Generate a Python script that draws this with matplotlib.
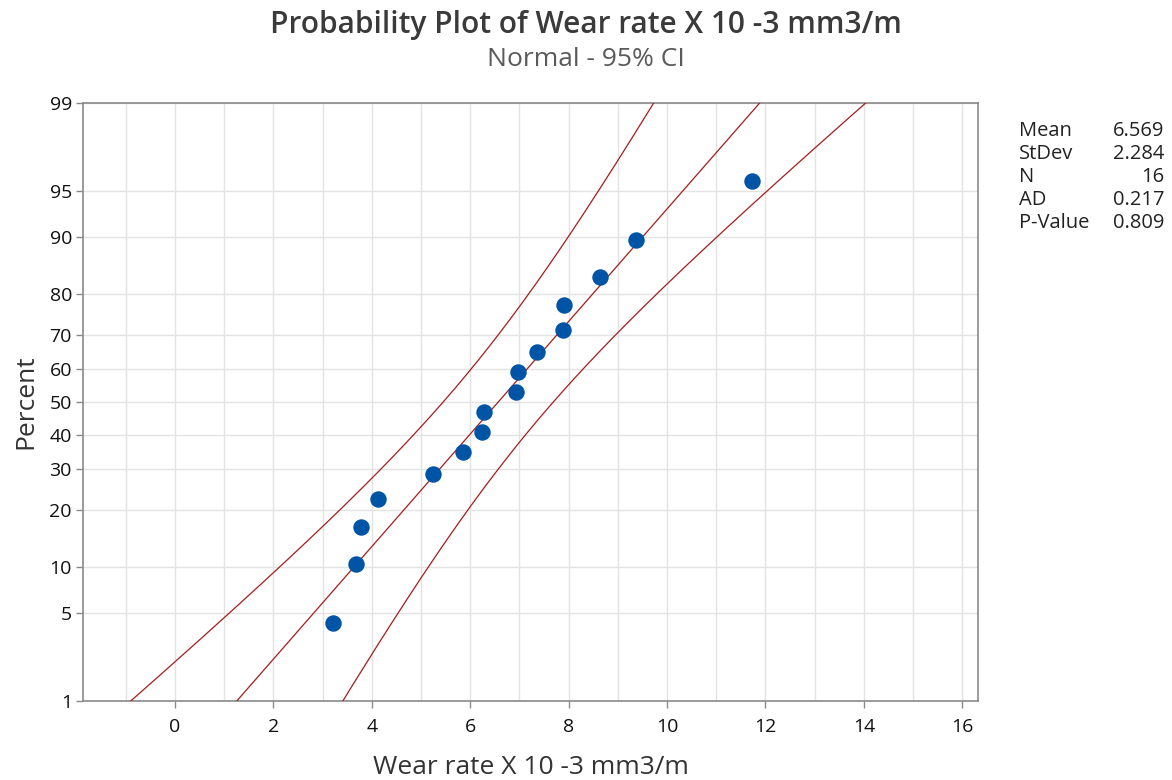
"""Normal probability plot of wear rate, with 95% CI bands."""
from statistics import NormalDist

import numpy as np
import matplotlib
matplotlib.use("Agg")
import matplotlib.pyplot as plt

# wear rate values (sorted)
wear = [3.22, 3.67, 3.79, 4.12, 5.25, 5.85, 6.24, 6.28,
        6.94, 6.97, 7.36, 7.88, 7.90, 8.63, 9.36, 11.72]
# plotted percent for each point
pct = [4.3, 10.4, 16.5, 22.6, 28.7, 34.8, 40.9, 47.0,
       53.0, 59.1, 65.2, 71.3, 77.4, 83.5, 89.6, 95.7]

MEAN = 6.569
STDEV = 2.284
N = 16
AD = 0.217
PVAL = 0.809

y_ticks = [1, 5, 10, 20, 30, 40, 50, 60, 70, 80, 90, 95, 99]
x_ticks = [0, 2, 4, 6, 8, 10, 12, 14, 16]
x_grid = list(range(-1, 17))

TITLE = "Probability Plot of Wear rate X 10 -3 mm3/m"
SUBTITLE = "Normal - 95% CI"
XLABEL = "Wear rate X 10 -3 mm3/m"

RED = "#a61c1c"
BLUE = "#0054a6"
GRID = "#e3e3e3"
SPINE = "#8a8a8a"

nd = NormalDist()


def z(p):
    return nd.inv_cdf(p / 100.0)


plt.rcParams["font.family"] = ["Open Sans", "DejaVu Sans"]

fig = plt.figure(figsize=(11.72, 7.8), dpi=100)
ax = fig.add_axes([83 / 1172, 1 - 701 / 780, (978 - 83) / 1172, (701 - 103) / 780])

# fitted line + 95% CI for percentiles
p_line = np.linspace(0.2, 99.8, 400)
zz = np.array([z(p) for p in p_line])
fit = MEAN + STDEV * zz
half = 1.959964 * STDEV / np.sqrt(N) * np.sqrt(1 + zz ** 2 / 2)
for xs in (fit, fit - half, fit + half):
    ax.plot(xs, zz, color=RED, lw=0.9, zorder=3)

ax.scatter(wear, [z(p) for p in pct], s=140, color=BLUE, zorder=4,
           linewidths=0)

ax.set_xlim(-1.87, 16.32)
ax.set_ylim(z(1), z(99))

for g in x_grid:
    ax.axvline(g, color=GRID, lw=1.0, zorder=1)
for t in y_ticks:
    ax.axhline(z(t), color=GRID, lw=1.0, zorder=1)

ax.set_xticks(x_ticks)
ax.set_xticklabels([str(t) for t in x_ticks])
ax.set_yticks([z(t) for t in y_ticks])
ax.set_yticklabels([str(t) for t in y_ticks])
ax.tick_params(direction="out", length=5, width=1, color=SPINE, pad=3,
               labelsize=14, labelcolor="#111111")
ax.tick_params(axis="x", pad=7)
for lab in ax.get_xticklabels() + ax.get_yticklabels():
    lab.set_fontweight("medium")
for s in ax.spines.values():
    s.set_color(SPINE)
    s.set_linewidth(1.2)

ax.set_xlabel(XLABEL, fontsize=19, color="#333333", labelpad=14)
ax.set_ylabel("Percent", fontsize=19, color="#333333", labelpad=8)

fig.text(0.5, 1 - 25 / 780, TITLE, ha="center", va="center",
         fontsize=21.5, fontweight="semibold", color="#3a3a3a")
fig.text(0.5, 1 - 59 / 780, SUBTITLE, ha="center", va="center",
         fontsize=19, color="#5a5a5a")

# summary table
rows = [("Mean", f"{MEAN:.3f}"), ("StDev", f"{STDEV:.3f}"), ("N", f"{N}"),
        ("AD", f"{AD:.3f}"), ("P-Value", f"{PVAL:.3f}")]
for i, (k, v) in enumerate(rows):
    yy = 1 - (131 + i * 23) / 780
    fig.text(1019 / 1172, yy, k, ha="left", va="center", fontsize=14.5,
             color="#222222")
    fig.text(1164 / 1172, yy, v, ha="right", va="center", fontsize=14.5,
             color="#222222")

fig.savefig("out.png", dpi=100)
